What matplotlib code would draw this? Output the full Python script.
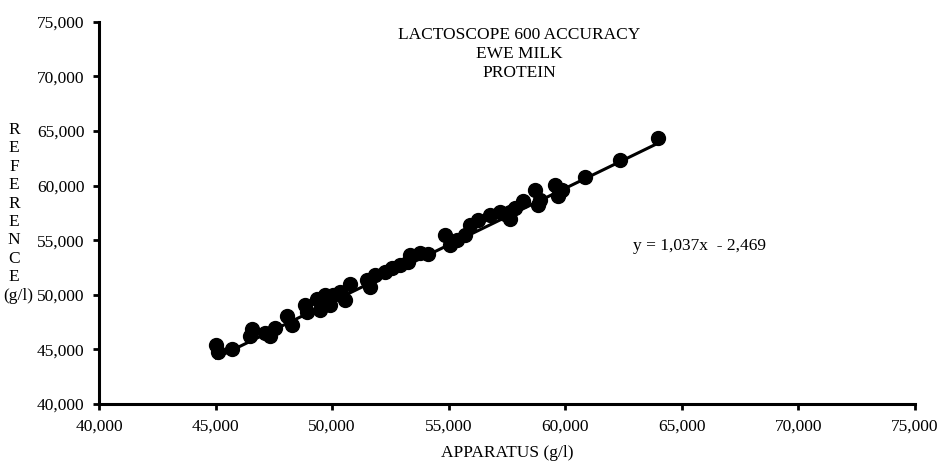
import matplotlib
matplotlib.use('Agg')
import matplotlib.pyplot as plt
from matplotlib.ticker import FuncFormatter, MultipleLocator
import numpy as np

# Datos (g/l)
aparato = [45.02, 45.11, 45.71, 46.57, 46.48, 47.12, 47.55, 47.34, 48.07, 48.28,
           48.84, 48.93, 49.36, 49.70, 50.04, 50.34, 49.49, 49.91, 50.56, 50.77,
           51.50, 51.85, 52.27, 52.58, 51.63, 52.92, 53.26, 53.35, 53.78, 54.12,
           54.85, 55.06, 55.36, 55.92, 56.27, 55.71, 56.78, 57.21, 57.64, 57.85,
           57.42, 57.64, 58.20, 58.71, 58.93, 58.84, 59.57, 59.87, 59.70, 60.86,
           62.36, 63.99]
referencia = [45.40, 44.76, 45.04, 46.87, 46.23, 46.50, 46.96, 46.23, 48.06, 47.23,
              49.07, 48.42, 49.62, 49.98, 49.98, 50.26, 48.61, 49.07, 49.52, 50.99,
              51.36, 51.81, 52.09, 52.45, 50.71, 52.73, 53.00, 53.64, 53.83, 53.70,
              55.48, 54.56, 55.02, 56.39, 56.85, 55.48, 57.31, 57.58, 57.58, 57.95,
              57.40, 56.94, 58.59, 59.59, 58.68, 58.22, 60.05, 59.59, 59.05, 60.79,
              62.34, 64.36]
pendiente = 1.037
ordenada = -2.469

titulo = ["LACTOSCOPE 600 ACCURACY", "EWE MILK", "PROTEIN"]
etiqueta_y = ["R", "E", "F", "E", "R", "E", "N", "C", "E", "(g/l)"]

plt.rcParams['font.family'] = ['Liberation Serif', 'DejaVu Serif']
FS = 12.5

fig = plt.figure(figsize=(9.38, 4.72), dpi=100)
ax = fig.add_axes([99 / 938, 1 - 404 / 472, (915 - 99) / 938, (404 - 21.7) / 472])

ax.plot(aparato, referencia, 'o', color='black', markersize=10, zorder=3)

# linea de tendencia
xt = np.array([min(aparato), max(aparato)])
ax.plot(xt, pendiente * xt + ordenada, color='black', linewidth=2.2, zorder=2)

ax.set_xlim(40, 75)
ax.set_ylim(40, 75)
ax.xaxis.set_major_locator(MultipleLocator(5))
ax.yaxis.set_major_locator(MultipleLocator(5))
fmt = FuncFormatter(lambda v, p: f"{v:.3f}".replace('.', ','))
ax.xaxis.set_major_formatter(fmt)
ax.yaxis.set_major_formatter(fmt)

for s in ['top', 'right']:
    ax.spines[s].set_visible(False)
for s in ['left', 'bottom']:
    ax.spines[s].set_linewidth(2.2)
ax.tick_params(direction='out', length=4.5, width=2, labelsize=FS, pad=6)

for i, linea in enumerate(titulo):
    fig.text(519 / 938, 1 - (35 + i * 19) / 472, linea, ha='center', va='center', fontsize=FS)
fig.text(507 / 938, 1 - 453 / 472, "APPARATUS (g/l)", ha='center', va='center', fontsize=FS)
fig.text(633 / 938, 1 - 246 / 472, "y = 1,037x  - 2,469", ha='left', va='center', fontsize=FS)

for i, letra in enumerate(etiqueta_y):
    xpos = 18 if letra == "(g/l)" else 14
    fig.text(xpos / 938, 1 - (130 + i * 18.4) / 472, letra, ha='center', va='center', fontsize=FS)

fig.savefig('out.png', dpi=100)
